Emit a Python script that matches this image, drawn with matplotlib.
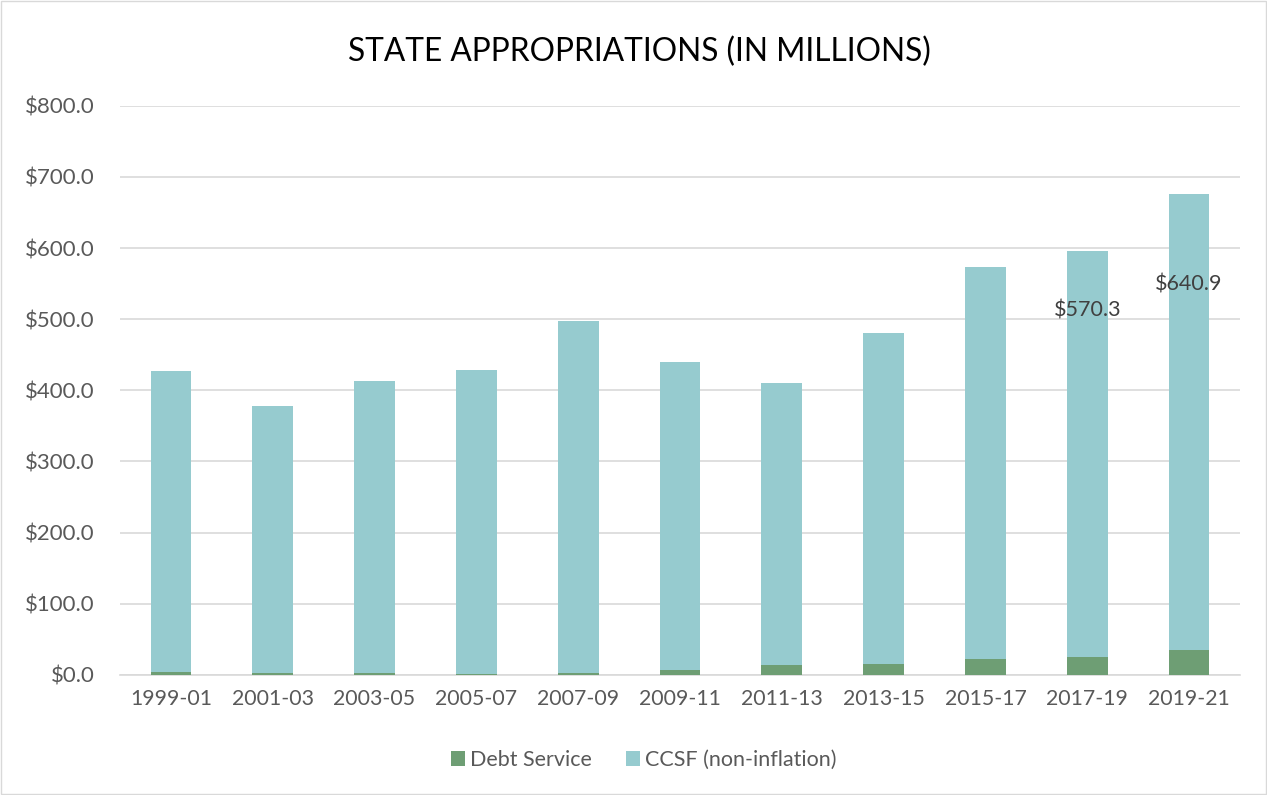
import matplotlib
matplotlib.use("Agg")
import matplotlib.pyplot as plt
import numpy as np

# Biennium labels and values (in millions)
periods = ["1999-01", "2001-03", "2003-05", "2005-07", "2007-09", "2009-11",
           "2011-13", "2013-15", "2015-17", "2017-19", "2019-21"]
debt_service = [4.0, 3.0, 2.5, 1.5, 2.5, 7.0, 13.5, 15.0, 23.0, 25.5, 34.5]
ccsf = [423.4, 375.2, 410.9, 427.3, 495.2, 433.1, 397.0, 465.8, 550.6, 570.3, 640.9]
# only the last two bars carry a data label
labelled = {9: "$570.3", 10: "$640.9"}
label_drop = {9: 84, 10: 126}

plt.rcParams["font.family"] = ["Lato", "DejaVu Sans"]
grey = "#595959"
green = "#6E9E74"
teal = "#96CBCF"

fig = plt.figure(figsize=(12.67, 7.95), dpi=100)
ax = fig.add_axes([0.0947, 0.151, 0.884, 0.716])

x = np.arange(len(periods))
ax.bar(x, debt_service, width=0.4, color=green, label="Debt Service", zorder=3)
ax.bar(x, ccsf, width=0.4, bottom=debt_service, color=teal,
       label="CCSF (non-inflation)", zorder=3)

for i, txt in labelled.items():
    top = debt_service[i] + ccsf[i]
    ax.text(x[i], top - label_drop[i], txt, ha="center", va="center",
            fontsize=15.5, color="#404040", zorder=4)

ax.set_xlim(-0.5, len(periods) - 0.5)
ax.set_ylim(0, 800)
ax.set_yticks(np.arange(0, 801, 100))
ax.set_yticklabels(["${:.1f}".format(v) for v in np.arange(0, 801, 100)])
ax.set_xticks(x)
ax.set_xticklabels(periods)
ax.tick_params(axis="y", length=0, labelsize=16, colors=grey, pad=18)
ax.tick_params(axis="x", length=0, labelsize=15.3, colors=grey, pad=10)
ax.grid(axis="y", color="#d9d9d9", linewidth=1.2, zorder=0)
for s in ["top", "right", "left"]:
    ax.spines[s].set_visible(False)
ax.spines["bottom"].set_color("#d9d9d9")
ax.spines["bottom"].set_linewidth(1.2)

fig.text(0.505, 0.935, "STATE APPROPRIATIONS (IN MILLIONS)", ha="center",
         va="center", fontsize=22.8, color="black")

fig.legend(loc="center", bbox_to_anchor=(0.508, 0.044), ncol=2, frameon=False,
           fontsize=15.5, labelcolor=grey, handlelength=0.65, handleheight=0.65,
           columnspacing=1.55, handletextpad=0.25)

# light chart-area border
fig.patches.append(plt.Rectangle((0.001, 0.001), 0.998, 0.998, transform=fig.transFigure,
                                 fill=False, edgecolor="#d9d9d9", linewidth=1))

fig.savefig("out.png", dpi=100)
